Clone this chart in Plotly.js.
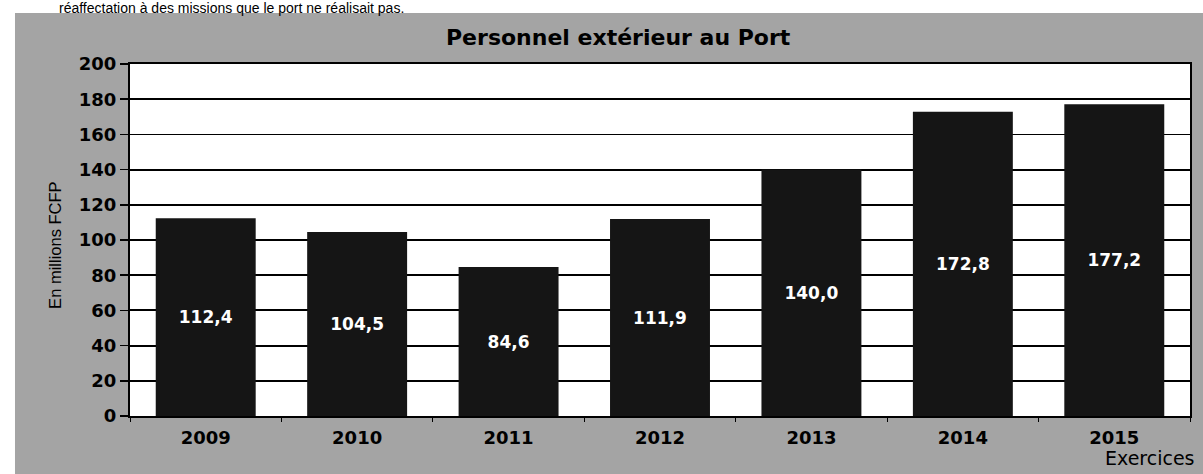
<!DOCTYPE html>
<html>
<head>
<meta charset="utf-8">
<script src="https://cdn.plot.ly/plotly-3.0.1.min.js"></script>
<style>html,body{margin:0;padding:0;background:#fff;}#chart{width:1203px;height:474px;}</style>
</head>
<body>
<div id="chart"></div>
<script>
// Data
const years = ['2009', '2010', '2011', '2012', '2013', '2014', '2015'];
const values = [112.4, 104.5, 84.6, 111.9, 140.0, 172.8, 177.2];
const yTicks = [0, 20, 40, 60, 80, 100, 120, 140, 160, 180, 200];

const chartTitle = 'Personnel extérieur au Port';
const yTitle = 'En millions FCFP';
const xTitle = 'Exercices';
const topText = 'réaffectation à des missions que le port ne réalisait pas.';

const labels = values.map(v => v.toFixed(1).replace('.', ','));

const trace = {
  type: 'bar',
  x: years,
  y: values,
  marker: {color: '#151515', line: {width: 0}},
  text: labels,
  textposition: 'inside',
  insidetextanchor: 'middle',
  textangle: 0,
  insidetextfont: {family: 'DejaVu Sans', size: 17, color: '#ffffff', weight: 'bold'},
  hoverinfo: 'skip'
};

const layout = {
  width: 1203,
  height: 474,
  margin: {l: 130, r: 13, t: 64, b: 58, pad: 0},
  paper_bgcolor: '#a4a4a4',
  plot_bgcolor: '#ffffff',
  bargap: 0.34,
  showlegend: false,
  xaxis: {
    type: 'category',
    showline: true, linecolor: '#000', linewidth: 2, mirror: true,
    showgrid: false,
    ticks: 'outside', tickson: 'boundaries', ticklen: 4, tickcolor: '#000',
    ticklabelstandoff: 4,
    tickfont: {family: 'DejaVu Sans', size: 18, color: '#000', weight: 'bold'}
  },
  yaxis: {
    range: [0, 200],
    tickvals: yTicks,
    ticktext: yTicks.map(String),
    showline: true, linecolor: '#000', linewidth: 2, mirror: true,
    showgrid: true, gridcolor: '#000', gridwidth: 1.8,
    zeroline: false,
    ticks: 'outside', ticklen: 8, tickcolor: '#000', tickwidth: 1.5,
    tickfont: {family: 'DejaVu Sans', size: 18, color: '#000', weight: 'bold'}
  },
  shapes: [
    {type: 'rect', xref: 'paper', yref: 'paper', x0: -0.2, x1: 1.1, y0: 1.1449, y1: 1.3,
     fillcolor: '#ffffff', line: {width: 0}, layer: 'below'},
    {type: 'rect', xref: 'paper', yref: 'paper', x0: -0.2, x1: -0.1085, y0: -0.3, y1: 1.3,
     fillcolor: '#ffffff', line: {width: 0}, layer: 'below'}
  ],
  annotations: [
    {text: chartTitle, xref: 'paper', yref: 'paper', x: 0.4604, y: 1.0739,
     xanchor: 'center', yanchor: 'middle', showarrow: false,
     font: {family: 'DejaVu Sans', size: 22, color: '#000', weight: 'bold'}},
    {text: yTitle, xref: 'paper', yref: 'paper', x: -0.0708, y: 0.486,
     xanchor: 'center', yanchor: 'middle', textangle: -90, showarrow: false,
     font: {family: 'Liberation Sans', size: 16.5, color: '#000'}},
    {text: xTitle, xref: 'paper', yref: 'paper', x: 0.9623, y: -0.119,
     xanchor: 'center', yanchor: 'middle', showarrow: false,
     font: {family: 'DejaVu Sans', size: 19, color: '#000'}},
    {text: topText, xref: 'paper', yref: 'paper', x: -0.0689, y: 1.1588,
     xanchor: 'left', yanchor: 'middle', showarrow: false,
     font: {family: 'Liberation Sans', size: 14, color: '#000'}}
  ]
};

Plotly.newPlot('chart', [trace], layout, {displayModeBar: false, staticPlot: true});
</script>
</body>
</html>
